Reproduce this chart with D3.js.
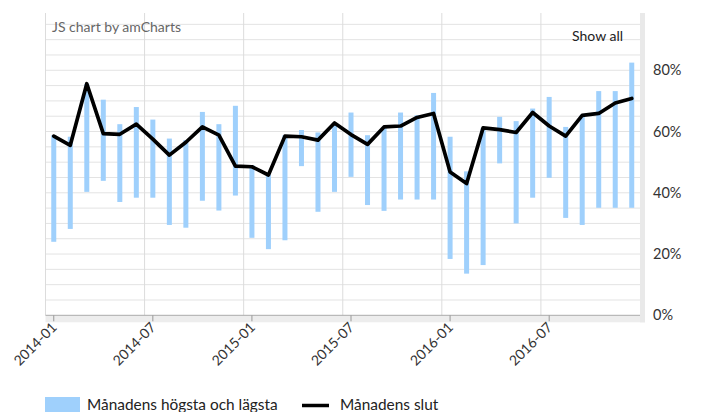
<!DOCTYPE html>
<html>
<head>
<meta charset="utf-8">
<script src="https://cdn.jsdelivr.net/npm/d3@7/dist/d3.min.js"></script>
<style>
  body { margin: 0; background: #fff; }
  svg { font-family: Lato, "Open Sans", sans-serif; display: block; }
</style>
</head>
<body>
<div id="chart"></div>
<script>
// DATA
const months = ["2014-01","2014-02","2014-03","2014-04","2014-05","2014-06","2014-07","2014-08","2014-09","2014-10","2014-11","2014-12",
                "2015-01","2015-02","2015-03","2015-04","2015-05","2015-06","2015-07","2015-08","2015-09","2015-10","2015-11","2015-12",
                "2016-01","2016-02","2016-03","2016-04","2016-05","2016-06","2016-07","2016-08","2016-09","2016-10","2016-11","2016-12"]
const high = [58.8,58.3,75.5,70.4,62.4,68,63.9,57.7,57.2,66.4,62.4,68.4,
              49,46,58.8,60.5,59.7,62.8,66.2,58.8,61.5,66.2,65.3,72.6,
              58.3,47,61.2,64.8,63.4,67.5,71.3,61.5,65.3,73.2,73.2,82.5]
const low = [24,28.2,40.3,43.9,37,38.4,38.4,29.5,28.6,37.4,34.2,39.1,
             25.3,21.6,24.5,48.7,33.8,40.3,45.2,36,34.1,37.8,37.8,37.8,
             18.4,13.6,16.4,49.6,30,38.4,44.9,31.8,29.5,35.1,35.1,35.1]
const close = [58.5,55.5,75.6,59.3,59.1,62.4,57.5,52.3,56.5,61.5,58.8,48.7,
               48.5,45.8,58.5,58.3,57.2,62.8,59,55.8,61.5,61.8,64.6,65.9,
               46.8,43,61.2,60.6,59.7,66.2,61.8,58.5,65.3,65.9,69.3,70.8]
const yTicks = [0, 20, 40, 60, 80]
const xTickLabels = ["2014-01","2014-07","2015-01","2015-07","2016-01","2016-07"]
const legendLabels = ["Månadens högsta och lägsta", "Månadens slut"]

const data = months.map((m, i) => ({month: m, high: high[i], low: low[i], close: close[i]}))

// CONSTANTS
const width = 701
const height = 412
const plot = {left: 45.5, right: 640, top: 13, bottom: 315.3}

const svg = d3.select("#chart").append("svg").attr("width", width).attr("height", height)

// SCALES
const x = d3.scaleBand().domain(months).range([plot.left, plot.right]).padding(0)
const y = d3.scaleLinear().domain([0, 98.7]).range([plot.bottom, plot.top])

// GRID
const grid = svg.append("g").attr("id", "grid")
grid.selectAll("line.h").data(d3.range(5, 100, 5))
  .enter().append("line")
  .attr("x1", plot.left).attr("x2", plot.right)
  .attr("y1", d => y(d)).attr("y2", d => y(d))
  .attr("stroke", "#e3e3e3").attr("stroke-width", 1)
grid.selectAll("line.v").data(xTickLabels.slice(1))
  .enter().append("line")
  .attr("x1", d => x(d)).attr("x2", d => x(d))
  .attr("y1", plot.top).attr("y2", plot.bottom)
  .attr("stroke", "#dcdcdc").attr("stroke-width", 1)
grid.append("line")
  .attr("x1", plot.left).attr("x2", plot.left)
  .attr("y1", plot.top).attr("y2", plot.bottom)
  .attr("stroke", "#dcdcdc")

// SCROLLBARS
svg.append("rect").attr("x", plot.left).attr("y", plot.bottom).attr("width", plot.right - plot.left + 5).attr("height", 7)
  .attr("fill", "#ededed")
svg.append("rect").attr("x", plot.right).attr("y", plot.top).attr("width", 5).attr("height", plot.bottom - plot.top + 7)
  .attr("fill", "#e9e9e9")

// BARS
svg.append("g").selectAll("rect").data(data)
  .enter().append("rect")
  .attr("x", d => x(d.month) + x.bandwidth() / 2 - 2.5)
  .attr("y", d => y(d.high))
  .attr("width", 5)
  .attr("height", d => y(d.low) - y(d.high))
  .attr("fill", "#9fd0fc")

// LINE
svg.append("path").datum(data)
  .attr("fill", "none").attr("stroke", "#000").attr("stroke-width", 3.7)
  .attr("stroke-linejoin", "round").attr("stroke-linecap", "round")
  .attr("d", d3.line().x(d => x(d.month) + x.bandwidth() / 2).y(d => y(d.close)))

// X AXIS
svg.append("line").attr("x1", plot.left).attr("x2", plot.right)
  .attr("y1", plot.bottom).attr("y2", plot.bottom).attr("stroke", "#aaa")
const xt = svg.append("g").selectAll("g").data(xTickLabels).enter().append("g")
  .attr("transform", d => `translate(${x(d) + x.bandwidth() / 2}, ${plot.bottom})`)
xt.append("line").attr("y1", 0).attr("y2", 6).attr("stroke", "#999")
xt.append("text").text(d => d)
  .attr("transform", "translate(4, 13) rotate(-45)")
  .attr("text-anchor", "end").attr("font-size", 14).attr("fill", "#333")

// Y AXIS
svg.append("g").selectAll("text").data(yTicks).enter().append("text")
  .attr("x", 653).attr("y", d => y(d)).attr("dy", "0.35em")
  .attr("font-size", 14.5).attr("fill", "#333")
  .text(d => d + "%")

// TITLES
svg.append("text").attr("x", 52).attr("y", 32).attr("font-size", 14).attr("fill", "#666").text("JS chart by amCharts")
svg.append("text").attr("x", 623).attr("y", 41).attr("text-anchor", "end").attr("font-size", 14).attr("fill", "#222").text("Show all")

// LEGEND
const legend = svg.append("g")
legend.append("rect").attr("x", 45).attr("y", 397).attr("width", 35).attr("height", 20).attr("fill", "#9fd0fc")
legend.append("text").attr("x", 87).attr("y", 410).attr("font-size", 15.4).attr("fill", "#222").text(legendLabels[0])
legend.append("line").attr("x1", 302).attr("x2", 329).attr("y1", 405.5).attr("y2", 405.5)
  .attr("stroke", "#000").attr("stroke-width", 3.5)
legend.append("text").attr("x", 340).attr("y", 410).attr("font-size", 15.4).attr("fill", "#222").text(legendLabels[1])
</script>
</body>
</html>
